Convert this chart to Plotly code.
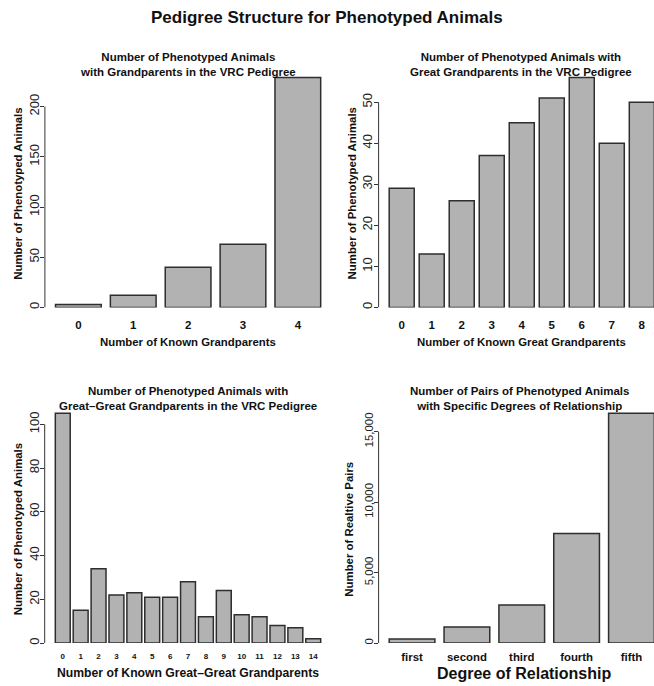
import plotly.graph_objects as go

# ---------------- data ----------------
gp_cats = ["0", "1", "2", "3", "4"]
gp_vals = [3, 12, 40, 63, 229]

ggp_cats = ["0", "1", "2", "3", "4", "5", "6", "7", "8"]
ggp_vals = [29, 13, 26, 37, 45, 51, 56, 40, 50]

gggp_cats = ["0", "1", "2", "3", "4", "5", "6", "7", "8", "9", "10", "11", "12", "13", "14"]
gggp_vals = [105, 15, 34, 22, 23, 21, 21, 28, 12, 24, 13, 12, 8, 7, 2]

deg_cats = ["first", "second", "third", "fourth", "fifth"]
deg_vals = [300, 1150, 2700, 7770, 16300]

main_title = "Pedigree Structure for Phenotyped Animals"
titles = [
    "Number of Phenotyped Animals<br>with Grandparents in the VRC Pedigree",
    "Number of Phenotyped Animals with<br>Great Grandparents in the VRC Pedigree",
    "Number of Phenotyped Animals with<br>Great\u2013Great Grandparents in the VRC Pedigree",
    "Number of Pairs of Phenotyped Animals<br>with Specific Degrees of Relationship",
]
xtitles = [
    "Number of Known Grandparents",
    "Number of Known Great Grandparents",
    "Number of Known Great\u2013Great Grandparents",
    "Degree of Relationship",
]
ytitles = [
    "Number of Phenotyped Animals",
    "Number of Phenotyped Animals",
    "Number of Phenotyped Animals",
    "Number of Realtive Pairs",
]

# ---------------- layout helpers ----------------
W, H = 654, 686
FONT = "Liberation Sans, Arial, Helvetica, sans-serif"
BAR_FILL = "#b2b2b2"
BAR_LINE = "#2e2e2e"


def px(p):
    return p / W


def py(p):
    return 1 - p / H


panels = [
    dict(cats=gp_cats, vals=gp_vals, left=44.9, right=331.3, top=68.5, bottom=308.3,
         dtick=50, last=200, fmt="", xfs=11.5, yfs=13, xso=9,
         tx=188, ty=64.2, xtx=188.3, xty=342.7, xtfs=11.4, ytx=18.3, yty=194),
    dict(cats=ggp_cats, vals=ggp_vals, left=378.6, right=664.9, top=68.5, bottom=308.3,
         dtick=10, last=50, fmt="", xfs=11.5, yfs=13, xso=9,
         tx=521, ty=64.2, xtx=521.3, xty=342.7, xtfs=11.4, ytx=352, yty=194),
    dict(cats=gggp_cats, vals=gggp_vals, left=44.7, right=331.3, top=405.3, bottom=645,
         dtick=20, last=100, fmt="", xfs=8, yfs=13, xso=7,
         tx=188, ty=400, xtx=188, xty=675, xtfs=12.2, ytx=18.3, yty=530.5),
    dict(cats=deg_cats, vals=deg_vals, left=378.6, right=664.9, top=405.3, bottom=645,
         dtick=5000, last=15000, fmt=",", xfs=11.4, yfs=11.4, xso=5,
         tx=519, ty=400, xtx=524, xty=675, xtfs=16, ytx=349.5, yty=530.7),
]

fig = go.Figure()
annotations = []
shapes = []

for i, p in enumerate(panels):
    n = len(p["cats"])
    ax = "" if i == 0 else str(i + 1)
    xa, ya = "x" + ax, "y" + ax

    ext = 0.04 * (n - 1 / 6)
    lo = -5 / 12 - ext
    hi = n - 1 + 5 / 12 + ext
    right = p["right"]
    if right > W:  # plot region is clipped by the picture edge
        hi = lo + (hi - lo) * (W - p["left"]) / (right - p["left"])
        right = W

    fig.add_trace(go.Bar(
        x=p["cats"], y=p["vals"], xaxis=xa, yaxis=ya,
        marker=dict(color=BAR_FILL, line=dict(color=BAR_LINE, width=1.5)),
        showlegend=False, hoverinfo="x+y",
    ))

    fig.layout["xaxis" + ax] = dict(
        domain=[px(p["left"]), px(right)], anchor=ya, type="category",
        range=[lo, hi], showgrid=False, zeroline=False, showline=False,
        ticks="", ticklabelstandoff=p["xso"],
        tickfont=dict(family=FONT, size=p["xfs"], color="#111", weight="bold"),
        fixedrange=True,
    )
    fig.layout["yaxis" + ax] = dict(
        domain=[py(p["bottom"]), py(p["top"])], anchor=xa,
        range=[0, 1.04 * max(p["vals"])], tick0=0, dtick=p["dtick"],
        tickformat=p["fmt"], showgrid=False, zeroline=False, showline=False,
        ticks="outside", ticklen=4, tickwidth=1, tickcolor="#333",
        ticklabelstandoff=-4,
        tickangle=-90, tickfont=dict(family=FONT, size=p["yfs"], color="#222"),
        fixedrange=True,
    )
    # R-style y axis line spanning the first to the last tick
    shapes.append(dict(type="line", xref=xa + " domain", yref=ya,
                       x0=0, x1=0, y0=0, y1=p["last"],
                       line=dict(color="#333", width=1)))

    annotations.append(dict(text="<b>%s</b>" % titles[i], x=px(p["tx"]), y=py(p["ty"]),
                            xref="paper", yref="paper", showarrow=False,
                            xanchor="center", yanchor="middle",
                            font=dict(family=FONT, size=11.5, color="#111")))
    annotations.append(dict(text="<b>%s</b>" % xtitles[i], x=px(p["xtx"]), y=py(p["xty"]),
                            xref="paper", yref="paper", showarrow=False,
                            xanchor="center", yanchor="middle",
                            font=dict(family=FONT, size=p["xtfs"], color="#111")))
    annotations.append(dict(text="<b>%s</b>" % ytitles[i], x=px(p["ytx"]), y=py(p["yty"]),
                            xref="paper", yref="paper", showarrow=False, textangle=-90,
                            xanchor="center", yanchor="middle",
                            font=dict(family=FONT, size=11.4, color="#111")))

annotations.append(dict(text="<b>%s</b>" % main_title, x=px(327), y=py(17.3),
                        xref="paper", yref="paper", showarrow=False,
                        xanchor="center", yanchor="middle",
                        font=dict(family=FONT, size=17, color="#111")))

fig.update_layout(
    width=W, height=H,
    margin=dict(l=0, r=0, t=0, b=0),
    paper_bgcolor="white", plot_bgcolor="white",
    bargap=1 / 6,
    annotations=annotations, shapes=shapes,
    font=dict(family=FONT, color="#111"),
)

fig.write_html("out.html",
               config={"displayModeBar": False},
               post_script="document.body.style.margin='0';document.body.style.overflow='hidden';")
